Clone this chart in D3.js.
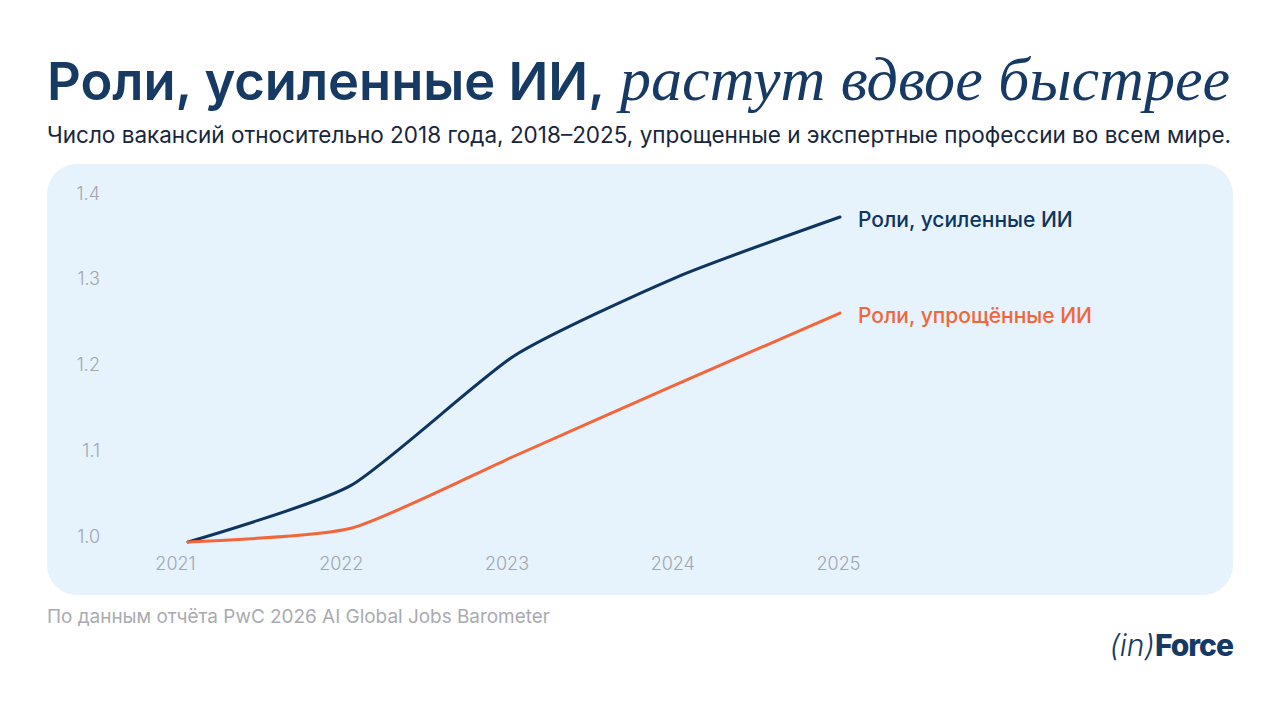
<!DOCTYPE html>
<html>
<head>
<meta charset="utf-8">
<script src="https://cdn.jsdelivr.net/npm/d3@7"></script>
<style>
  body { margin: 0; background: #ffffff; }
  svg { display: block; font-family: "Inter", "Lato", sans-serif; }
</style>
</head>
<body>
<svg id="chart" width="1280" height="720"></svg>
<script>
// ---- data ----
var years = [2021, 2022, 2023, 2024, 2025];
var augmented = [1.0, 1.066, 1.217, 1.309, 1.379];   // Роли, усиленные ИИ
var automated = [1.0, 1.016, 1.1, 1.184, 1.267];     // Роли, упрощённые ИИ
var yTicks = [1.0, 1.1, 1.2, 1.3, 1.4];
var seriesNames = ["Роли, усиленные ИИ", "Роли, упрощённые ИИ"];
var seriesColors = ["#0e3560", "#f2663a"];

var titleSans = "Роли, усиленные ИИ,";
var titleSerif = "растут вдвое быстрее";
var subtitle = "Число вакансий относительно 2018 года, 2018–2025, упрощенные и экспертные профессии во всем мире.";
var source = "По данным отчёта PwC 2026 AI Global Jobs Barometer";

var svg = d3.select("#chart");
var navy = "#163a63";

// scale font size so the text spans the wanted width
function fitWidth(sel, target) {
  var w = sel.node().getComputedTextLength();
  var fs = parseFloat(sel.style("font-size"));
  sel.style("font-size", (fs * target / w).toFixed(2) + "px");
  return sel;
}

// ---- header ----
fitWidth(svg.append("text")
  .attr("x", 47).attr("y", 100)
  .style("font-size", "50px").style("font-weight", 600)
  .style("fill", navy)
  .text(titleSans), 558);

fitWidth(svg.append("text")
  .attr("x", 620).attr("y", 100)
  .style("font-family", "'Liberation Serif', 'DejaVu Serif', serif")
  .style("font-style", "italic")
  .style("font-size", "68px")
  .style("fill", navy)
  .text(titleSerif), 610);

fitWidth(svg.append("text")
  .attr("x", 47).attr("y", 143)
  .style("font-size", "20px").style("font-weight", 400)
  .style("fill", "#17263d")
  .text(subtitle), 1184);

// ---- panel ----
svg.append("rect")
  .attr("x", 47).attr("y", 164)
  .attr("width", 1186).attr("height", 431)
  .attr("rx", 30).attr("ry", 30)
  .style("fill", "#e6f2fc");

// ---- scales ----
var x = d3.scalePoint().domain(years).range([188, 840]);
var xLabel = d3.scalePoint().domain(years).range([175, 838]);
var y = d3.scaleLinear().domain([1.0, 1.4]).range([542, 199]);

// y axis
var yAxis = svg.append("g")
  .attr("transform", "translate(100,0)")
  .call(d3.axisLeft(y).tickValues(yTicks).tickSize(0).tickPadding(0).tickFormat(d3.format(".1f")));
yAxis.select(".domain").remove();
yAxis.selectAll("text")
  .attr("dy", "0")
  .style("font-family", "Inter, sans-serif")
  .style("font-size", "18px")
  .style("font-weight", 300)
  .style("fill", "#a2a6ae");

// x axis
var xAxis = svg.append("g")
  .attr("transform", "translate(0,557)")
  .call(d3.axisBottom(xLabel).tickSize(0).tickPadding(0));
xAxis.select(".domain").remove();
xAxis.selectAll("text")
  .style("font-family", "Inter, sans-serif")
  .style("font-size", "18px")
  .style("font-weight", 300)
  .style("fill", "#a2a6ae");

// ---- lines ----
var line = d3.line()
  .x((d, i) => x(years[i]))
  .y((d) => y(d))
  .curve(d3.curveCardinal.tension(0.4));

[augmented, automated].forEach(function (values, k) {
  svg.append("path")
    .datum(values)
    .attr("d", line)
    .style("fill", "none")
    .style("stroke", seriesColors[k])
    .style("stroke-width", 3)
    .style("stroke-linecap", "round")
    .style("stroke-linejoin", "round");

  svg.append("text")
    .attr("x", x(years[years.length - 1]) + 18)
    .attr("y", y(values[values.length - 1]) + 4)
    .attr("dominant-baseline", "middle")
    .style("font-size", "21px")
    .style("font-weight", 500)
    .style("fill", seriesColors[k])
    .text(seriesNames[k]);
});

// ---- footer ----
fitWidth(svg.append("text")
  .attr("x", 47).attr("y", 623)
  .style("font-size", "18px").style("font-weight", 400)
  .style("fill", "#a9abb0")
  .text(source), 503);

var logo = svg.append("text")
  .attr("x", 1233).attr("y", 656)
  .attr("text-anchor", "end")
  .style("font-size", "30px")
  .style("fill", navy);
logo.append("tspan").style("font-style", "italic").style("font-weight", 300).text("(in)");
logo.append("tspan").style("font-weight", 800).style("letter-spacing", "-1px").text("Force");
</script>
</body>
</html>
